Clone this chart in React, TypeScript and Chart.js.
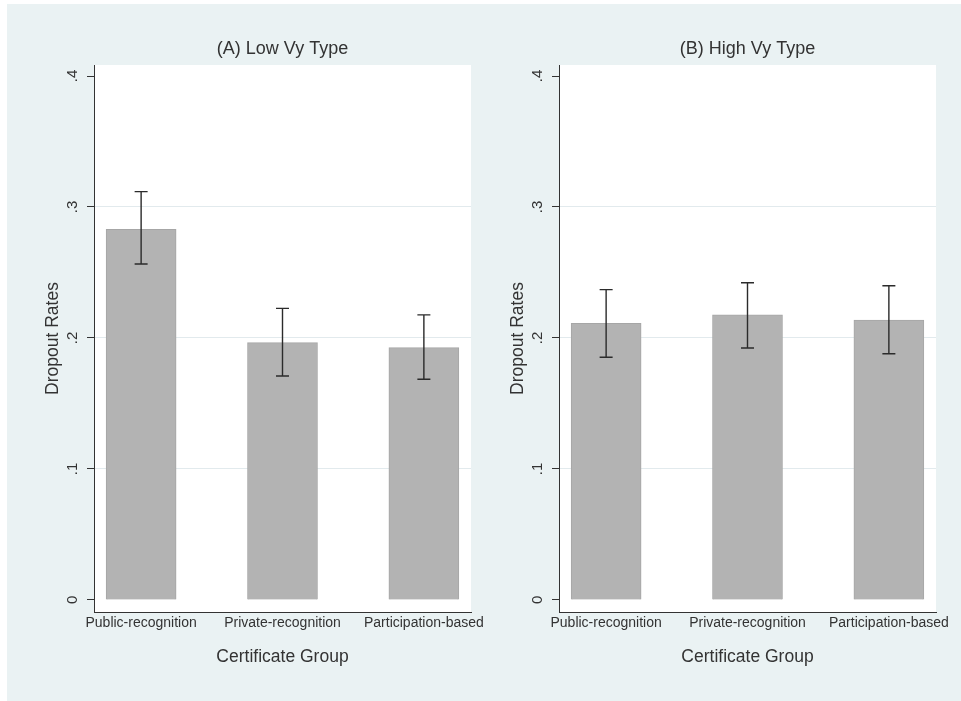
import React, { useEffect, useRef } from "react";
import { Chart, registerables } from "chart.js";

Chart.register(...registerables);

// ---- Data ----
const categories = ["Public-recognition", "Private-recognition", "Participation-based"];
const xPositions = [1, 2, 3];

const lowVyMeans = [0.283, 0.1964, 0.1926];
const lowVyLower = [0.2565, 0.171, 0.1685];
const lowVyUpper = [0.3117, 0.2226, 0.2176];

const highVyMeans = [0.2112, 0.2176, 0.2137];
const highVyLower = [0.1853, 0.1924, 0.188];
const highVyUpper = [0.2369, 0.2422, 0.2399];

const yTicks = [0, 0.1, 0.2, 0.3, 0.4];
const yTickLabels = ["0", ".1", ".2", ".3", ".4"];

const panelTitles = ["(A) Low Vy Type", "(B) High Vy Type"];
const xTitle = "Certificate Group";
const yTitle = "Dropout Rates";

// ---- Styles ----
const FONT = "'Liberation Sans', Arial, sans-serif";
const TEXT = "#333333";
const BG = "#eaf2f3";
const GRID = "#e2eaed";
const BAR = "#b3b3b3";
const BAR_EDGE = "#a6a6a6";
const CW = 500;
const CH = 697;

function Panel({ title, means, lower, upper }: { title: string; means: number[]; lower: number[]; upper: number[] }) {
  const ref = useRef<HTMLCanvasElement | null>(null);
  useEffect(() => {
    if (!ref.current) return;
    const plotBg = {
      id: "plotBg",
      beforeDraw(chart: any) {
        const { ctx, chartArea } = chart;
        ctx.save();
        ctx.fillStyle = "#ffffff";
        ctx.fillRect(chartArea.left, chartArea.top, chartArea.right - chartArea.left, chartArea.bottom - chartArea.top);
        ctx.restore();
      },
    };
    const errorBars = {
      id: "errorBars",
      afterDatasetsDraw(chart: any) {
        const { ctx } = chart;
        const xs = chart.scales.x;
        const ys = chart.scales.y;
        ctx.save();
        ctx.strokeStyle = "#2b2b2b";
        ctx.lineWidth = 1.4;
        for (let i = 0; i < xPositions.length; i++) {
          const px = xs.getPixelForValue(xPositions[i]);
          const lo = ys.getPixelForValue(lower[i]);
          const hi = ys.getPixelForValue(upper[i]);
          ctx.beginPath();
          ctx.moveTo(px, lo);
          ctx.lineTo(px, hi);
          ctx.moveTo(px - 6.5, lo);
          ctx.lineTo(px + 6.5, lo);
          ctx.moveTo(px - 6.5, hi);
          ctx.lineTo(px + 6.5, hi);
          ctx.stroke();
        }
        ctx.restore();
      },
    };
    const chart = new Chart(ref.current, {
      type: "bar",
      data: {
        datasets: [
          {
            data: means.map((v, i) => ({ x: xPositions[i], y: v })),
            backgroundColor: BAR,
            borderColor: BAR_EDGE,
            borderWidth: 1,
            barThickness: 70,
          } as any,
        ],
      },
      options: {
        responsive: false,
        animation: false,
        devicePixelRatio: 1,
        layout: { padding: { left: 0, right: 36, top: 0, bottom: 0 } },
        plugins: {
          legend: { display: false },
          tooltip: { enabled: false },
          title: {
            display: true,
            text: title,
            fullSize: false,
            color: TEXT,
            font: { family: FONT, size: 18, weight: "normal" },
            padding: { top: 34.5, bottom: 4.9 },
          },
        },
        scales: {
          x: {
            type: "linear",
            min: 2 / 3,
            max: 10 / 3,
            offset: false,
            grid: { display: false, drawTicks: false },
            border: { display: true, color: TEXT, width: 1 },
            afterBuildTicks: (s: any) => {
              s.ticks = xPositions.map((v) => ({ value: v }));
            },
            ticks: {
              autoSkip: false,
              maxRotation: 0,
              minRotation: 0,
              padding: 3,
              color: TEXT,
              font: { family: FONT, size: 14 },
              callback: (v: any) => {
                const k = xPositions.indexOf(Number(v));
                return k >= 0 ? categories[k] : "";
              },
            },
            title: {
              display: true,
              text: xTitle,
              color: TEXT,
              font: { family: FONT, size: 17.5 },
              padding: { top: 0, bottom: 33 },
            },
            afterFit: (s: any) => {
              s.height = 89;
            },
          } as any,
          y: {
            type: "linear",
            min: -0.0092,
            max: 0.4084,
            afterBuildTicks: (s: any) => {
              s.ticks = yTicks.map((v) => ({ value: v }));
            },
            ticks: {
              autoSkip: false,
              minRotation: 90,
              maxRotation: 90,
              crossAlign: "center",
              padding: 8,
              color: TEXT,
              font: { family: FONT, size: 15 },
              callback: (v: any) => {
                const k = yTicks.indexOf(Number(v));
                return k >= 0 ? yTickLabels[k] : "";
              },
            },
            grid: {
              color: (c: any) => {
                const v = c.tick ? c.tick.value : null;
                return v !== null && v > 0.05 && v < 0.35 ? GRID : "rgba(0,0,0,0)";
              },
              tickColor: TEXT,
              tickLength: 7,
              lineWidth: 1,
            },
            border: { display: true, color: TEXT, width: 1 },
            title: {
              display: true,
              text: yTitle,
              color: TEXT,
              font: { family: FONT, size: 17.5 },
              padding: { top: 36, bottom: 0 },
            },
            afterFit: (s: any) => {
              s.width = 87;
            },
          } as any,
        },
      },
      plugins: [plotBg, errorBars],
    });
    return () => chart.destroy();
  }, []);
  return <canvas ref={ref} width={CW} height={CH} style={{ display: "block", width: CW, height: CH }} />;
}

export default function App() {
  return (
    <div style={{ position: "absolute", left: 0, top: 0, width: 961, height: 701, overflow: "hidden", background: "#ffffff" }}>
      <div style={{ position: "absolute", left: 7, top: 4, width: 954, height: 697, background: BG }} />
      <div style={{ position: "absolute", left: 7, top: 4 }}>
        <Panel title={panelTitles[0]} means={lowVyMeans} lower={lowVyLower} upper={lowVyUpper} />
      </div>
      <div style={{ position: "absolute", left: 472, top: 4 }}>
        <Panel title={panelTitles[1]} means={highVyMeans} lower={highVyLower} upper={highVyUpper} />
      </div>
    </div>
  );
}
